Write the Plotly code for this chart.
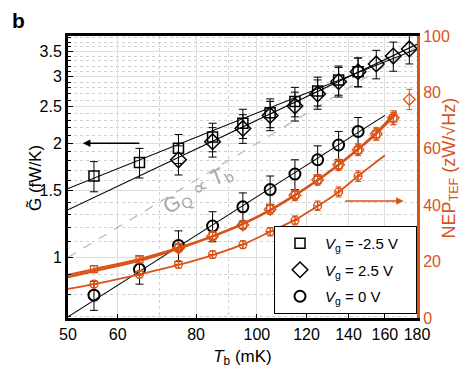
import numpy as np
import plotly.graph_objects as go

ORANGE = "#D95319"
FONT = "Liberation Sans, Arial, sans-serif"

# bath temperature (mK)
T_sq = [55, 65, 75, 85, 95, 105, 115, 125, 135, 145]
T_di = [75, 85, 95, 105, 115, 125, 135, 145, 155, 165, 175]
T_ci = [55, 65, 75, 85, 95, 105, 115, 125, 135, 145]

# thermal conductance G~ (fW/K), left axis
G_sq = [1.64, 1.78, 1.94, 2.08, 2.26, 2.41, 2.58, 2.75, 2.94, 3.09]
G_sq_err = [0.15, 0.16, 0.17, 0.18, 0.2, 0.21, 0.23, 0.24, 0.26, 0.27]
G_di = [1.81, 2.02, 2.19, 2.37, 2.51, 2.70, 2.91, 3.09, 3.24, 3.40, 3.55]
G_di_err = [0.16, 0.18, 0.19, 0.21, 0.22, 0.24, 0.26, 0.27, 0.28, 0.3, 0.31]
G_ci = [0.795, 0.93, 1.075, 1.21, 1.36, 1.51, 1.66, 1.81, 1.98, 2.15]
G_ci_err = [0.07, 0.08, 0.1, 0.11, 0.12, 0.13, 0.15, 0.16, 0.17, 0.19]

# power-law fits (end points)
fit_sq_T = [50, 180]
fit_sq_G = [1.52, 3.55]
fit_di_T = [50, 180]
fit_di_G = [1.336, 3.65]
fit_ci_T = [50, 160]
fit_ci_G = [0.697, 2.37]
gq_T = [50, 180]
gq_G = [1.0, 3.6]

# NEP_TEF (zW/sqrt(Hz)), right axis
N_sq_T = [55, 65, 75, 85, 95, 105, 115, 125, 135, 145, 155, 165]
N_sq = [17.3, 20.8, 25.0, 29.2, 33.1, 38.8, 43.7, 49.0, 54.2, 59.5, 65.1, 70.8]
N_di_T = [75, 85, 95, 105, 115, 125, 135, 145, 155, 165, 175]
N_di = [24.8, 29.0, 33.0, 38.5, 43.5, 49.0, 54.3, 59.7, 65.3, 71.0, 77.5]
N_di_err = [1.5, 1.5, 1.6, 1.7, 1.8, 1.9, 2.0, 2.1, 2.3, 2.5, 3.6]
N_ci_T = [55, 65, 75, 85, 95, 105, 115, 125, 135, 145]
N_ci = [12.0, 15.5, 19.0, 22.5, 26.0, 30.6, 34.6, 39.8, 44.7, 50.3]
N_err = [1.2, 1.2, 1.3, 1.3, 1.4, 1.5, 1.6, 1.7, 1.8, 1.9, 2.0, 2.1]

# smooth fits of NEP
nfit_T = [50, 55, 65, 75, 85, 95, 105, 115, 125, 135, 145, 155, 167]
nfit_sq = [15.3, 17.3, 20.9, 24.9, 29.0, 33.4, 38.3, 43.6, 48.9, 54.3, 59.8, 65.3, 72.5]
nfit_di = [14.5, 16.6, 20.3, 24.6, 28.9, 33.3, 38.2, 43.5, 48.9, 54.4, 60.0, 65.7, 73.3]
nfit_ci_T = [50, 55, 65, 75, 85, 95, 105, 115, 125, 135, 145, 160]
nfit_ci = [10.3, 12.0, 15.5, 18.8, 22.3, 26.1, 30.6, 34.8, 39.7, 44.7, 50.3, 57.7]

legend_names = ["<i>V</i><sub>g</sub> = -2.5 V", "<i>V</i><sub>g</sub> = 2.5 V", "<i>V</i><sub>g</sub> = 0 V"]

fig = go.Figure()

# dashed G_Q line
fig.add_trace(go.Scatter(x=gq_T, y=gq_G, mode="lines", showlegend=False,
                         line=dict(color="#b5b5b5", width=1.2, dash="dash")))
for fx, fy in [(fit_sq_T, fit_sq_G), (fit_di_T, fit_di_G), (fit_ci_T, fit_ci_G)]:
    fig.add_trace(go.Scatter(x=fx, y=fy, mode="lines", showlegend=False,
                             line=dict(color="black", width=1.1)))

# orange NEP
fig.add_trace(go.Scatter(x=nfit_T, y=nfit_sq, mode="lines", yaxis="y2", showlegend=False,
                         line=dict(color=ORANGE, width=2.2, shape="spline")))
fig.add_trace(go.Scatter(x=nfit_T, y=nfit_di, mode="lines", yaxis="y2", showlegend=False,
                         line=dict(color=ORANGE, width=2.2, shape="spline")))
fig.add_trace(go.Scatter(x=nfit_ci_T, y=nfit_ci, mode="lines", yaxis="y2", showlegend=False,
                         line=dict(color=ORANGE, width=1.8, shape="spline")))
fig.add_trace(go.Scatter(x=N_sq_T, y=N_sq, mode="markers", yaxis="y2", showlegend=False,
                         marker=dict(symbol="square-open", size=7, color=ORANGE, line=dict(width=1.3)),
                         error_y=dict(type="data", array=N_err, color=ORANGE, thickness=1, width=3)))
fig.add_trace(go.Scatter(x=N_di_T, y=N_di, mode="markers", yaxis="y2", showlegend=False,
                         marker=dict(symbol="diamond-open", size=9, color=ORANGE, line=dict(width=1.3)),
                         error_y=dict(type="data", array=N_di_err, color=ORANGE, thickness=1, width=3)))
fig.add_trace(go.Scatter(x=N_ci_T, y=N_ci, mode="markers", yaxis="y2", showlegend=False,
                         marker=dict(symbol="circle-cross-open", size=8, color=ORANGE, line=dict(width=1.2)),
                         error_y=dict(type="data", array=N_err[:10], color=ORANGE, thickness=1, width=3)))

# black conductance points
pad = "\u00a0\u00a0\u00a0"
fig.add_trace(go.Scatter(x=T_sq, y=G_sq, mode="markers", name=legend_names[0] + pad,
                         legendgroup="a",
                         marker=dict(symbol="square-open", size=10, color="black", line=dict(width=1.5)),
                         error_y=dict(type="data", array=G_sq_err, color="black", thickness=1, width=4)))
fig.add_trace(go.Scatter(x=T_di, y=G_di, mode="markers", name=legend_names[1],
                         legendgroup="b",
                         marker=dict(symbol="diamond-open", size=12, color="black", line=dict(width=1.5)),
                         error_y=dict(type="data", array=G_di_err, color="black", thickness=1, width=4)))
fig.add_trace(go.Scatter(x=T_ci, y=G_ci, mode="markers", name=legend_names[2],
                         legendgroup="c",
                         marker=dict(symbol="circle-open", size=11, color="black", line=dict(width=2)),
                         error_y=dict(type="data", array=G_ci_err, color="black", thickness=1, width=4)))

W, H = 468, 371
ml, mr, mt, mb = 60, 59, 28, 61
pw, ph = W - ml - mr, H - mt - mb

fig.update_layout(
    width=W, height=H,
    margin=dict(l=ml, r=mr, t=mt, b=mb),
    paper_bgcolor="white", plot_bgcolor="white",
    font=dict(family=FONT, size=16, color="black"),
    xaxis=dict(
        type="log", range=[np.log10(50), np.log10(180)],
        tickvals=[50, 60, 80, 100, 120, 140, 160, 180],
        ticktext=["50", "60", "80", "100", "120", "140", "160", "180"],
        ticks="inside", ticklen=4, tickcolor="black",
        showline=True, linewidth=3, linecolor="black", mirror=True,
        showgrid=True, gridcolor="#dedede", gridwidth=1,
        minor=dict(tickvals=[70, 90], showgrid=True, gridcolor="#cfcfcf", griddash="dot", ticks=""),
        title=dict(text="<i>T</i><sub>b</sub> (mK)", font=dict(size=17), standoff=8),
        zeroline=False,
    ),
    yaxis=dict(
        type="log", range=[np.log10(0.692), np.log10(3.84)],
        tickvals=[1, 1.5, 2, 2.5, 3, 3.5],
        ticktext=["1", "1.5", "2", "2.5", "3", "3.5"],
        ticks="inside", ticklen=5, tickcolor="black",
        showline=True, linewidth=3, linecolor="black",
        showgrid=True, gridcolor="#dedede", gridwidth=1,
        minor=dict(tickvals=[round(v, 1) for v in np.arange(0.7, 3.85, 0.1)],
                   showgrid=True, gridcolor="#cfcfcf", griddash="dot",
                   ticks="inside", ticklen=3, tickcolor="black"),
        zeroline=False,
    ),
    yaxis2=dict(
        overlaying="y", side="right", range=[0, 100],
        tickvals=[0, 20, 40, 60, 80, 100],
        tickfont=dict(color=ORANGE, size=16),
        showline=True, linewidth=3, linecolor=ORANGE,
        showgrid=False, zeroline=False, ticks="",
    ),
    legend=dict(
        x=1, xanchor="right", y=4 / ph, yanchor="bottom",
        bgcolor="white", bordercolor="black", borderwidth=1,
        font=dict(size=15), tracegroupgap=4, itemwidth=40,
    ),
    annotations=[
        dict(text="<b>b</b>", xref="paper", yref="paper",
             x=(2 - ml) / pw, y=1 + (mt + 1) / ph, xanchor="left", yanchor="top",
             showarrow=False, font=dict(size=21)),
        dict(text="G\u0303 (fW/K)", xref="paper", yref="paper",
             x=(27 - ml) / pw, y=(ph + mt - 170) / ph, textangle=-90,
             xanchor="center", yanchor="middle",
             showarrow=False, font=dict(size=17)),
        dict(text="NEP<sub>TEF</sub> (zW/\u221AHz)", xref="paper", yref="paper",
             x=(455 - ml) / pw, y=(ph + mt - 160) / ph, textangle=-90,
             xanchor="right", yanchor="middle",
             showarrow=False, font=dict(size=18, color=ORANGE)),
        dict(text="G<sub>Q</sub> \u221D <i>T</i><sub>b</sub>", x=np.log10(80.5), y=np.log10(1.505),
             textangle=-31, showarrow=False, font=dict(size=21, color="#a8a8a8")),
        dict(text="", x=np.log10(52.8), y=np.log10(2.0), ax=58, ay=0,
             showarrow=True, arrowhead=2, arrowsize=1, arrowwidth=1.5, arrowcolor="black"),
        dict(text="", x=np.log10(171.4), y=41.5, yref="y2", ax=-60, ay=0,
             showarrow=True, arrowhead=2, arrowsize=1, arrowwidth=1.5, arrowcolor=ORANGE),
    ],
)

fig.write_html("out.html")
